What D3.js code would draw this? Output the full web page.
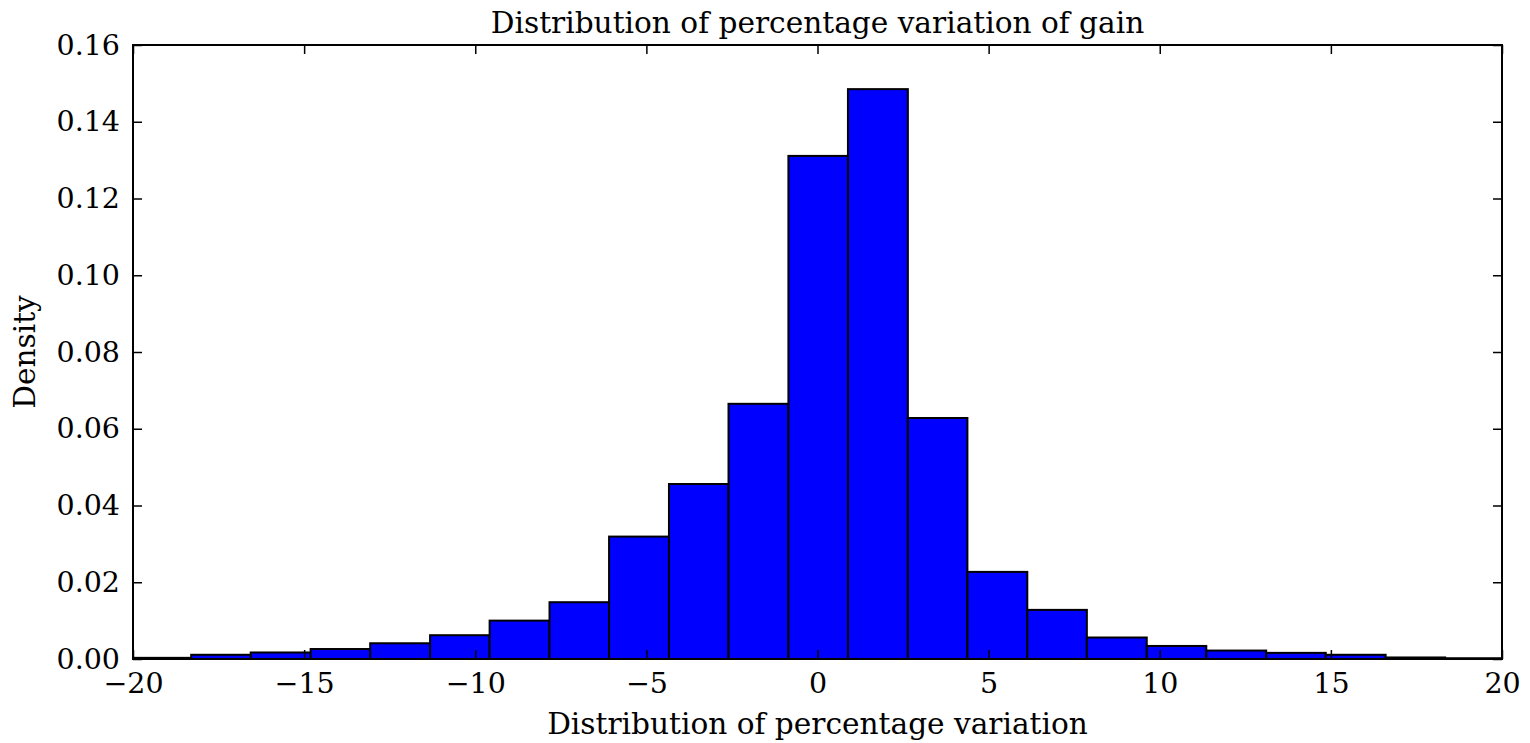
<!DOCTYPE html>
<html>
<head>
<meta charset="utf-8">
<script src="https://cdn.jsdelivr.net/npm/d3@7"></script>
<style>
  html, body { margin: 0; padding: 0; background: #fff; }
  svg { display: block; }
  text { font-family: "DejaVu Serif", serif; fill: #000; }
</style>
</head>
<body>
<svg id="chart" width="1530" height="743"></svg>
<script>
// Histogram bin edges (percentage variation) and the density of each bin
const binEdges = [-20.05, -18.3, -16.56, -14.81, -13.07, -11.32, -9.58, -7.83, -6.09, -4.34,
                  -2.6, -0.85, 0.89, 2.64, 4.38, 6.13, 7.87, 9.62, 11.36, 13.11, 14.85, 16.6, 18.34, 20.09];
const density = [0.0003, 0.0011, 0.0017, 0.0026, 0.0041, 0.0062, 0.0100, 0.0148, 0.0319, 0.0456,
                 0.0665, 0.1311, 0.1485, 0.0628, 0.0227, 0.0128, 0.0056, 0.0034, 0.0022, 0.0016,
                 0.0011, 0.0004, 0.0002];
const xTicks = [-20, -15, -10, -5, 0, 5, 10, 15, 20];
const yTicks = [0.00, 0.02, 0.04, 0.06, 0.08, 0.10, 0.12, 0.14, 0.16];

const titleText = "Distribution of percentage variation of gain";
const xLabel = "Distribution of percentage variation";
const yLabel = "Density";

const margin = { left: 133, right: 28, top: 45, bottom: 84 };
const W = 1530, H = 743;
const innerW = W - margin.left - margin.right;
const innerH = H - margin.top - margin.bottom;
const tickFont = 28.5;
const labelFont = 29.6;

const svg = d3.select("#chart");
const g = svg.append("g").attr("transform", `translate(${margin.left},${margin.top})`);

const x = d3.scaleLinear().domain([-20, 20]).range([0, innerW]);
const y = d3.scaleLinear().domain([0, 0.16]).range([innerH, 0]);

svg.append("defs").append("clipPath").attr("id", "plot-clip")
  .append("rect").attr("width", innerW).attr("height", innerH);

const bins = density.map((d, i) => ({ x0: binEdges[i], x1: binEdges[i + 1], v: d }));

g.append("g").attr("clip-path", "url(#plot-clip)")
  .selectAll("rect").data(bins).join("rect")
  .attr("x", d => x(d.x0))
  .attr("width", d => x(d.x1) - x(d.x0))
  .attr("y", d => y(d.v))
  .attr("height", d => y(0) - y(d.v))
  .attr("fill", "#0000ff")
  .attr("stroke", "#000")
  .attr("stroke-width", 2);

const fmtX = d => (d < 0 ? "\u2212" + Math.abs(d) : String(d));
const fmtY = d3.format(".2f");
const tickLen = 9;

// Inward ticks on all four sides
const axisB = d3.axisBottom(x).tickValues(xTicks).tickSize(-tickLen).tickPadding(14).tickFormat(fmtX);
const axisT = d3.axisTop(x).tickValues(xTicks).tickSize(-tickLen).tickFormat("");
const axisL = d3.axisLeft(y).tickValues(yTicks).tickSize(-tickLen).tickPadding(13).tickFormat(fmtY);
const axisR = d3.axisRight(y).tickValues(yTicks).tickSize(-tickLen).tickFormat("");

function styleAxis(sel) {
  sel.select(".domain").remove();
  sel.selectAll(".tick line").attr("stroke", "#000").attr("stroke-width", 1.5);
  sel.selectAll(".tick text").style("font-size", tickFont + "px").style("font-family", "'DejaVu Serif', serif").attr("fill", "#000");
}

g.append("g").attr("transform", `translate(0,${innerH})`).call(axisB).call(styleAxis);
g.append("g").call(axisT).call(styleAxis);
g.append("g").call(axisL).call(styleAxis);
g.append("g").attr("transform", `translate(${innerW},0)`).call(axisR).call(styleAxis);

// Frame
g.append("rect").attr("width", innerW).attr("height", innerH)
  .attr("fill", "none").attr("stroke", "#000").attr("stroke-width", 2);

svg.append("text")
  .attr("x", margin.left + innerW / 2).attr("y", 33)
  .attr("text-anchor", "middle").style("font-size", labelFont + "px")
  .text(titleText);

svg.append("text")
  .attr("x", margin.left + innerW / 2).attr("y", 734)
  .attr("text-anchor", "middle").style("font-size", labelFont + "px")
  .text(xLabel);

svg.append("text")
  .attr("transform", `translate(35,${margin.top + innerH / 2}) rotate(-90)`)
  .attr("text-anchor", "middle").style("font-size", labelFont + "px")
  .text(yLabel);
</script>
</body>
</html>
